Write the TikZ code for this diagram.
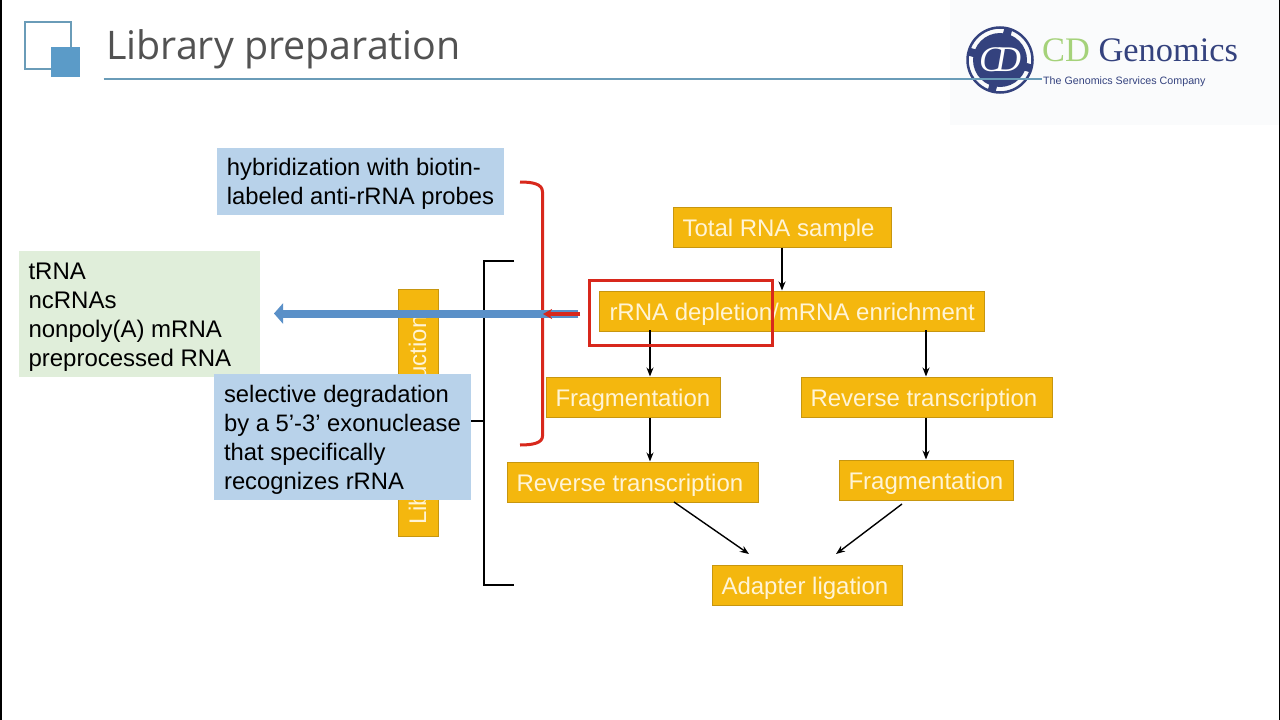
\documentclass[tikz,border=0pt]{standalone}
\usepackage{fontspec}
\setmainfont{Liberation Sans}
\newfontfamily\titlefont{Open Sans}
\newfontfamily\logofont{Liberation Serif}
\usepackage{tikz}
\usetikzlibrary{arrows.meta}
\usetikzlibrary{positioning}
\definecolor{stepyellow}{HTML}{F4B70E}
\definecolor{stepedge}{HTML}{C7960F}
\definecolor{stepink}{HTML}{FFF4D6}
\definecolor{noteblue}{HTML}{B8D2EA}
\definecolor{notegreen}{HTML}{E0EEDA}
\definecolor{ruleblue}{HTML}{6A9CB8}
\definecolor{iconblue}{HTML}{5B9BC8}
\definecolor{arrowblue}{HTML}{5A90C8}
\definecolor{markred}{HTML}{D8281C}
\definecolor{logoblue}{HTML}{34427E}
\definecolor{logogreen}{HTML}{A5D27A}
\definecolor{logoback}{HTML}{FAFBFC}
\newcommand{\notestrut}[1]{\rule{0pt}{#1}}

\begin{document}
\begin{tikzpicture}[x=1pt, y=-1pt,
  stepbox/.style={rectangle, draw=stepedge, line width=1pt, fill=stepyellow, text=stepink, inner sep=0pt, minimum width=#1, text width={#1-19pt}, align=flush left, minimum height=40pt, text height=18pt, text depth=0pt, font=\fontsize{24}{28}\selectfont},
  notebox/.style={rectangle, inner sep=0pt, align=left, text=black, font=\fontsize{23.8}{29}\selectfont},
  arrow/.style={line width=1.4pt, -{Stealth[length=9pt, width=7pt]}},
  bracket/.style={line width=1.6pt}]
\useasboundingbox (0,0) rectangle (1280,720);
\fill [white] (0,0) rectangle (1280,720);
% logo
\node (LOGOBACK) [fill=logoback, minimum width=330pt, minimum height=125pt, inner sep=0pt] at (1115,62.5) {};
\draw [black, line width=1.5pt] (0.75,0) -- (0.75,720);
\draw [black, line width=1.5pt] (1279.25,0) -- (1279.25,720);
\node (RULE) [inner sep=0pt] at (103,79) {};
\node (RULEEND) [inner sep=0pt] at (1043,79) {};
\node (BADGE) [circle, draw=logoblue, line width=2.5pt, minimum size=65pt, inner sep=0pt] at (1000,60) {};
\node (BADGEIN) [circle, fill=logoblue, minimum size=54pt, inner sep=0pt] at (1000,60) {};
\foreach \a in {75,-15,-105,165}
  \draw [logoblue, line width=8pt, shorten >=2pt, shorten <=-1pt] (BADGEIN.\a) -- (BADGE.\a);
\node (BADGETEXT) [inner sep=0pt, text=white, font=\logofont\itshape\fontsize{36}{36}\selectfont] at (1000,60) {C\kern-8pt D};
\draw [ruleblue, line width=1.6pt] (RULE) -- (RULEEND);
\node (LOGO) [anchor=base west, inner sep=0pt, font=\logofont\fontsize{34.4}{36}\selectfont] at (1042,61) {\textcolor{logogreen}{CD} \textcolor{logoblue}{Genomics}};
\node (SLOGAN) [anchor=base west, inner sep=0pt, text=logoblue, font=\fontsize{10.7}{12}\selectfont] at (1043,84) {The Genomics Services Company};
% title
\node (FRAME) [draw=ruleblue, line width=1.6pt, minimum width=46pt, minimum height=47pt, inner sep=0pt] at (48,45.5) {};
\node (CORNER) [fill=iconblue, minimum width=29pt, minimum height=30pt, inner sep=0pt] at (65.5,62) {};
\node (TITLE) [anchor=base west, inner sep=0pt, text=black!68, font=\titlefont\fontsize{39.4}{44}\selectfont] at (106,59) {Library preparation};
% side label sits under the notes
\node (LIBRARY) [rectangle, draw=stepedge, line width=1pt, fill=stepyellow, minimum width=40pt, minimum height=247pt, inner sep=0pt] at (418,412.5) {};
\node (LIBTEXT) [rotate=90, inner sep=0pt, text=stepink, font=\fontsize{24}{28}\selectfont] at (420,420) {Library construction};
\node (GREEN) [notebox, align=flush left, fill=notegreen, minimum width=241pt, minimum height=126pt, text width=222pt, font=\fontsize{24}{29}\selectfont] at (139.5,314) {\notestrut{23pt}tRNA\\ncRNAs\\nonpoly(A) mRNA\\preprocessed RNA};
% flow chart
\node (TOTAL) [stepbox=218pt] at (782,227) {Total RNA sample};
\node (DEPLETE) [stepbox=385pt] at (791.5,311) {\mbox{\kern1pt rRNA depletion/mRNA enrichment}};
\node (FRAGA) [stepbox=174pt] at (633,397) {Fragmentation};
\node (REVB) [stepbox=251pt] at (926.5,397) {Reverse transcription};
\node (REVA) [stepbox=251pt] at (632.5,482) {Reverse transcription};
\node (FRAGB) [stepbox=174pt] at (926,480) {Fragmentation};
\node (ADAPTER) [stepbox=190pt] at (807,585) {Adapter ligation};
\coordinate (LEFTDOWN) at (650,330);
\coordinate (RIGHTDOWN) at (926,330);
\coordinate (DIAGA) at (674,502);
\coordinate (DIAGB) at (902,504);
\coordinate (DIAGAEND) at (749,554);
\coordinate (DIAGBEND) at (836,554);
\draw [arrow] (TOTAL.south) -- (TOTAL.south |- DEPLETE.north);
\draw [arrow] (LEFTDOWN) -- (LEFTDOWN |- FRAGA.north);
\draw [arrow] (RIGHTDOWN) -- (RIGHTDOWN |- REVB.north);
\draw [arrow] (LEFTDOWN |- FRAGA.south) -- (LEFTDOWN |- REVA.north);
\draw [arrow] (RIGHTDOWN |- REVB.south) -- (RIGHTDOWN |- FRAGB.north);
\draw [arrow] (DIAGA) -- (DIAGAEND);
\draw [arrow] (DIAGB) -- (DIAGBEND);
% brackets
\coordinate (BLACKTOP) at (514,261);
\coordinate (BLACKBOT) at (514,585);
\coordinate (BLACKMID) at (484,421);
\coordinate (BLACKTAB) at (471,421);
\draw [bracket] (BLACKTOP) -- (484,261) -- (484,585) -- (BLACKBOT);
\draw [bracket] (BLACKMID) -- (BLACKTAB);
\coordinate (REDTOP) at (520,182);
\coordinate (REDBOT) at (520,445);
\draw [markred, line width=3pt] (REDTOP) .. controls (533,182) and (542.5,184) .. (542.5,192) -- (542.5,436) .. controls (542.5,443) and (533,445) .. (REDBOT);
% red frame and pointers
\node (REDBOX) [draw=markred, line width=3pt, minimum width=183pt, minimum height=65pt, inner sep=0pt] at (680.5,312.5) {};
\coordinate (BLUETAIL) at (578,313.5);
\coordinate (BLUETIP) at (274,313.5);
\draw [arrowblue, line width=8pt, -{Stealth[length=9pt, width=20pt, inset=0pt]}] (BLUETAIL) -- (BLUETIP);
\coordinate (REDTAIL) at (580,314);
\coordinate (REDTIP) at (543,314);
\draw [markred, line width=3.5pt, -{Stealth[length=9pt, width=10pt]}] (REDTAIL) -- (REDTIP);
% notes on top
\node (HYBRID) [notebox, fill=noteblue, minimum width=287pt, minimum height=67pt] at (360.5,181.5) {\notestrut{21pt}hybridization with biotin-\\labeled anti-rRNA probes};
\node (SELECT) [notebox, fill=noteblue, minimum width=257pt, minimum height=126pt] at (342.5,437) {\notestrut{23pt}selective degradation\\by a 5'-3' exonuclease\\that specifically\\recognizes rRNA};
\end{tikzpicture}
\end{document}
